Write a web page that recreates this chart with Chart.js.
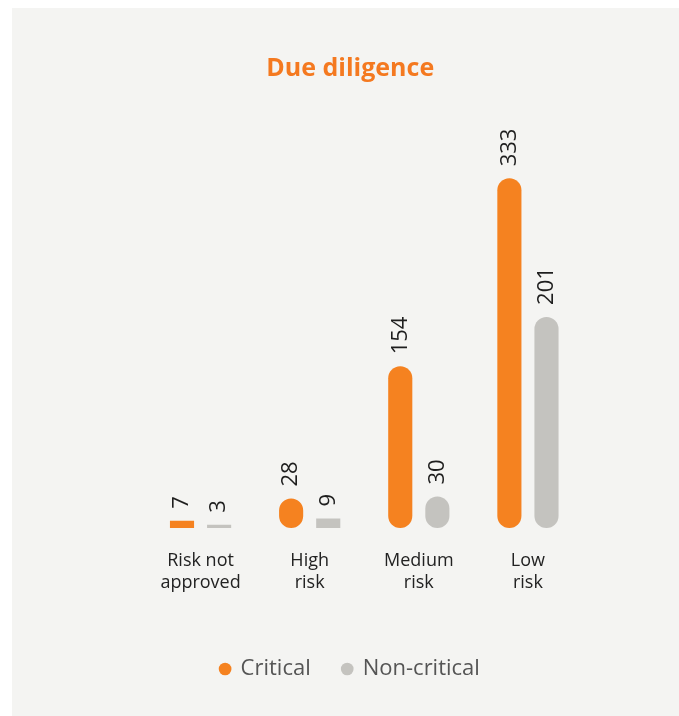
<!DOCTYPE html>
<html>
<head>
<meta charset="utf-8">
<script src="https://cdn.jsdelivr.net/npm/chart.js@4"></script>
<style>
  html, body { margin: 0; padding: 0; background: #ffffff; }
  #panel { position: absolute; left: 12px; top: 8px; width: 667px; height: 708px; background: #f4f4f2; }
  canvas { display: block; }
</style>
</head>
<body>
<div id="panel"><canvas id="c" width="667" height="708"></canvas></div>
<script>
const categories = [["Risk not", "approved"], ["High", "risk"], ["Medium", "risk"], ["Low", "risk"]];
const criticalValues = [7, 28, 154, 333];
const nonCriticalValues = [3, 9, 30, 201];
const seriesNames = ["Critical", "Non-critical"];
const titleText = "Due diligence";

const ORANGE = "#f58220";
const GREY = "#c4c3bf";
const FONT = "'Open Sans', Lato, sans-serif";

const valueLabels = {
  id: "valueLabels",
  afterDatasetsDraw(chart) {
    const ctx = chart.ctx;
    chart.data.datasets.forEach((ds, i) => {
      const meta = chart.getDatasetMeta(i);
      meta.data.forEach((bar, j) => {
        ctx.save();
        ctx.translate(bar.x, bar.y - 12);
        ctx.rotate(-Math.PI / 2);
        ctx.font = "22px " + FONT;
        ctx.fillStyle = "#1e1e1e";
        ctx.textAlign = "left";
        ctx.textBaseline = "middle";
        ctx.fillText(String(ds.data[j]), 0, 0);
        ctx.restore();
      });
    });
  }
};

const radiusFn = (c) => (c.raw < 15 ? 0 : 12);

new Chart(document.getElementById("c"), {
  type: "bar",
  data: {
    labels: categories,
    datasets: [
      { label: seriesNames[0], data: criticalValues, backgroundColor: ORANGE, borderRadius: radiusFn, borderSkipped: false,
        categoryPercentage: 0.68, barPercentage: 0.65 },
      { label: seriesNames[1], data: nonCriticalValues, backgroundColor: GREY, borderRadius: radiusFn, borderSkipped: false,
        categoryPercentage: 0.68, barPercentage: 0.65 }
    ]
  },
  options: {
    responsive: false,
    animation: false,
    layout: { padding: { left: 106, right: 96.5, top: 0, bottom: 26 } },
    plugins: {
      title: {
        display: true, text: titleText, color: "#f47920",
        font: { family: FONT, size: 25, weight: "bold" },
        padding: { top: 46, bottom: 24 }
      },
      legend: {
        position: "bottom",
        labels: {
          usePointStyle: true, pointStyle: "circle", boxWidth: 9, boxHeight: 9,
          color: "#555555", font: { family: FONT, size: 22 }, padding: 32
        }
      },
      tooltip: { enabled: false }
    },
    scales: {
      x: {
        grid: { display: false }, border: { display: false },
        ticks: { color: "#222222", font: { family: FONT, size: 18, lineHeight: 1.22 }, padding: 14, maxRotation: 0, autoSkip: false },
        afterFit(s) { s.height = 98; }
      },
      y: {
        min: 0, max: 400,
        grid: { display: false }, border: { display: false },
        ticks: { display: false },
        afterFit(s) { s.width = 28; }
      }
    }
  },
  plugins: [valueLabels]
});
</script>
</body>
</html>
